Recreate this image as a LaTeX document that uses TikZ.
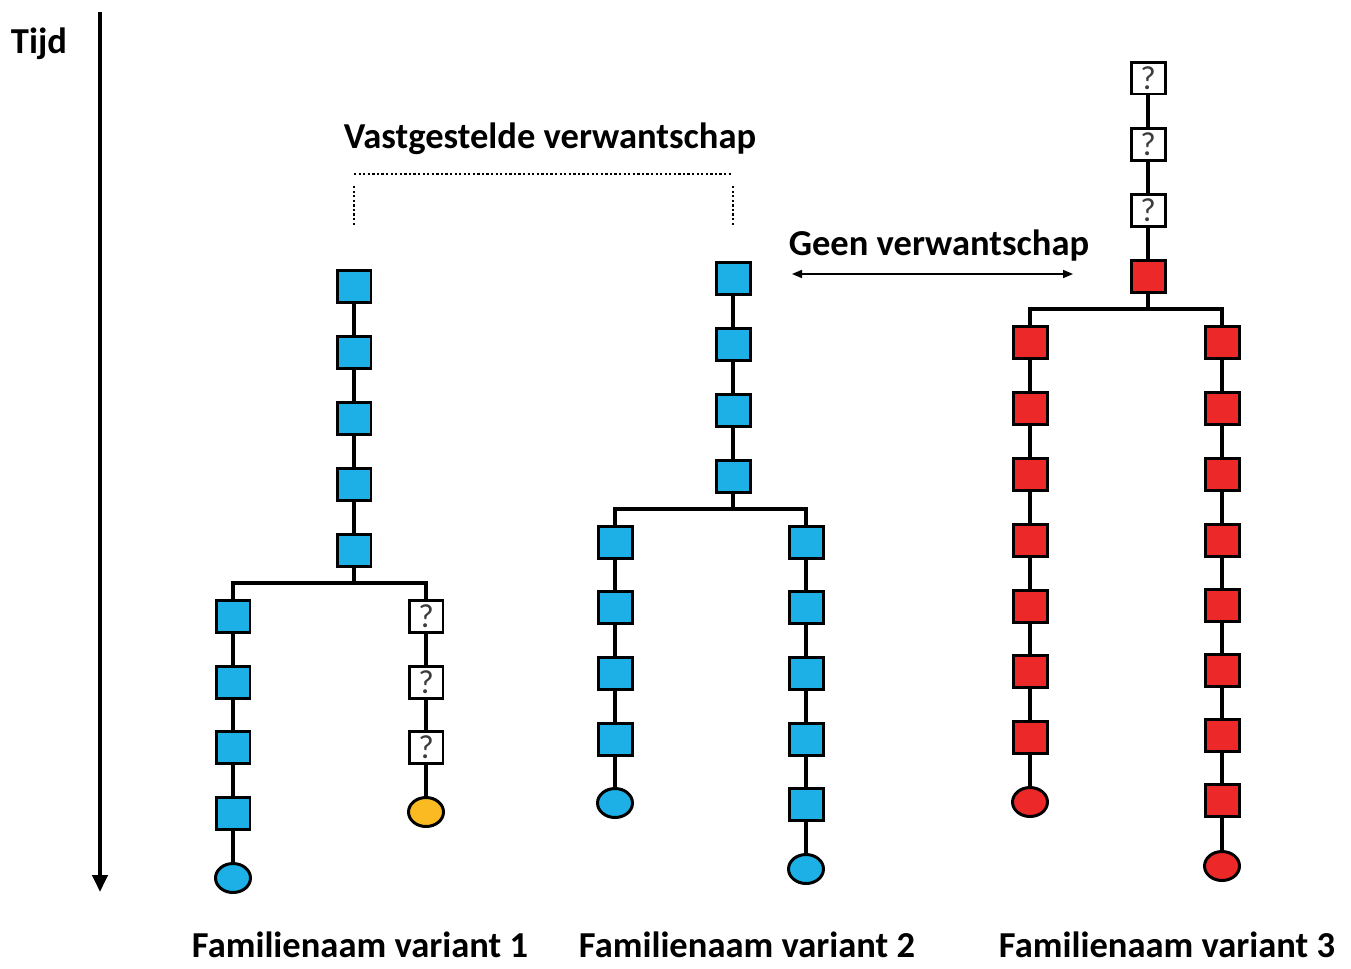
\documentclass[tikz,border=0pt]{standalone}
\usepackage{fontspec}
\setmainfont{Carlito}
\usetikzlibrary{arrows.meta,shapes.geometric}
\definecolor{cblue}{RGB}{29,176,230}
\definecolor{cred}{RGB}{237,40,40}
\definecolor{cyel}{RGB}{251,186,34}
\definecolor{cq}{RGB}{60,60,60}
\tikzset{
  base/.style={draw=black, line width=1.7pt, inner sep=0pt},
  sq/.style={base, rectangle, minimum width=0.68cm, minimum height=0.64cm},
  bsq/.style={sq, fill=cblue},
  rsq/.style={sq, fill=cred},
  qsq/.style={sq, fill=white, text=cq, font=\fontsize{19}{19}\selectfont},
  ell/.style={base, ellipse, minimum width=0.7cm, minimum height=0.58cm},
  bell/.style={ell, fill=cblue},
  rell/.style={ell, fill=cred},
  yell/.style={ell, fill=cyel},
  link/.style={line width=1.8pt},
  lbl/.style={font=\bfseries\fontsize{20.8}{21}\selectfont, inner sep=0pt, anchor=base},
  dots/.style={line width=1.3pt, dash pattern=on 1.3pt off 1.3pt}
}
\begin{document}
\begin{tikzpicture}[x=0.02cm, y=-0.02cm]
\path[use as bounding box] (0,0) rectangle (1351,968);

% time axis
\node[lbl] (tijd) at (39,53) {Tijd};
\coordinate (ttop) at (100,12);
\coordinate (tbot) at (100,892);
\draw[line width=2.6pt, -{Triangle[length=0.34cm, width=0.3cm]}] (ttop) -- (tbot);

% ---------- Tree 1 ----------
\foreach \y [count=\i] in {286,352,418,484,550} {
  \node[bsq] (a\i) at (354,\y) {};
}
\foreach \i [evaluate=\i as \j using int(\i+1)] in {1,...,4} { \draw[link] (a\i) -- (a\j); }
\coordinate (b1) at (354,583);
\foreach \y [count=\i] in {616,682,747,813} {
  \node[bsq] (al\i) at (233,\y) {};
}
\node[bell] (alc) at (233,878) {};
\foreach \y [count=\i] in {616,682,747} {
  \node[qsq] (ar\i) at (426,\y) {?};
}
\node[yell] (arc) at (426,812) {};
\foreach \i [evaluate=\i as \j using int(\i+1)] in {1,...,3} { \draw[link] (al\i) -- (al\j); }
\draw[link] (al4) -- (alc);
\draw[link] (ar1) -- (ar2); \draw[link] (ar2) -- (ar3); \draw[link] (ar3) -- (arc);
\draw[link] (a5) -- (b1);
\draw[link] (al1.north) -- (al1.north |- b1) -- (ar1.north |- b1) -- (ar1.north);

% ---------- Tree 2 ----------
\foreach \y [count=\i] in {278,344,410,476} {
  \node[bsq] (c\i) at (733,\y) {};
}
\foreach \i [evaluate=\i as \j using int(\i+1)] in {1,...,3} { \draw[link] (c\i) -- (c\j); }
\coordinate (b2) at (733,509);
\foreach \y [count=\i] in {542,607,673,739} {
  \node[bsq] (cl\i) at (615,\y) {};
}
\node[bell] (clc) at (615,803) {};
\foreach \y [count=\i] in {542,607,673,739,804} {
  \node[bsq] (cr\i) at (806,\y) {};
}
\node[bell] (crc) at (806,869) {};
\foreach \i [evaluate=\i as \j using int(\i+1)] in {1,...,3} { \draw[link] (cl\i) -- (cl\j); }
\draw[link] (cl4) -- (clc);
\foreach \i [evaluate=\i as \j using int(\i+1)] in {1,...,4} { \draw[link] (cr\i) -- (cr\j); }
\draw[link] (cr5) -- (crc);
\draw[link] (c4) -- (b2);
\draw[link] (cl1.north) -- (cl1.north |- b2) -- (cr1.north |- b2) -- (cr1.north);

% ---------- Tree 3 ----------
\foreach \y [count=\i] in {78,144,210} {
  \node[qsq] (e\i) at (1148,\y) {?};
}
\node[rsq] (e4) at (1148,276) {};
\foreach \i [evaluate=\i as \j using int(\i+1)] in {1,...,3} { \draw[link] (e\i) -- (e\j); }
\coordinate (b3) at (1148,309);
\foreach \y [count=\i] in {342,408,474,540,606,671,737} {
  \node[rsq] (el\i) at (1030,\y) {};
}
\node[rell] (elc) at (1030,802) {};
\foreach \y [count=\i] in {342,408,474,540,605,670,735,800} {
  \node[rsq] (er\i) at (1222,\y) {};
}
\node[rell] (erc) at (1222,866) {};
\foreach \i [evaluate=\i as \j using int(\i+1)] in {1,...,6} { \draw[link] (el\i) -- (el\j); }
\draw[link] (el7) -- (elc);
\foreach \i [evaluate=\i as \j using int(\i+1)] in {1,...,7} { \draw[link] (er\i) -- (er\j); }
\draw[link] (er8) -- (erc);
\draw[link] (e4) -- (b3);
\draw[link] (el1.north) -- (el1.north |- b3) -- (er1.north |- b3) -- (er1.north);

% ---------- relationship annotations ----------
\node[lbl] (vast) at (550,148) {Vastgestelde verwantschap};
\coordinate (d1) at (354,174);
\coordinate (d2) at (733,174);
\coordinate (d1b) at (354,186);
\coordinate (d2b) at (733,186);
\coordinate (d1c) at (354,226);
\coordinate (d2c) at (733,226);
\draw[dots] (d1) -- (d2);
\draw[dots] (d1b) -- (d1c);
\draw[dots] (d2b) -- (d2c);

\node[lbl] (geen) at (939,255) {Geen verwantschap};
\coordinate (g1) at (792,274);
\coordinate (g2) at (1073,274);
\draw[line width=0.9pt, {Triangle[length=0.2cm, width=0.16cm]}-{Triangle[length=0.2cm, width=0.16cm]}] (g1) -- (g2);

% ---------- bottom labels ----------
\node[lbl] (f1) at (360,957) {Familienaam variant 1};
\node[lbl] (f2) at (747,957) {Familienaam variant 2};
\node[lbl] (f3) at (1167,957) {Familienaam variant 3};
\end{tikzpicture}
\end{document}
